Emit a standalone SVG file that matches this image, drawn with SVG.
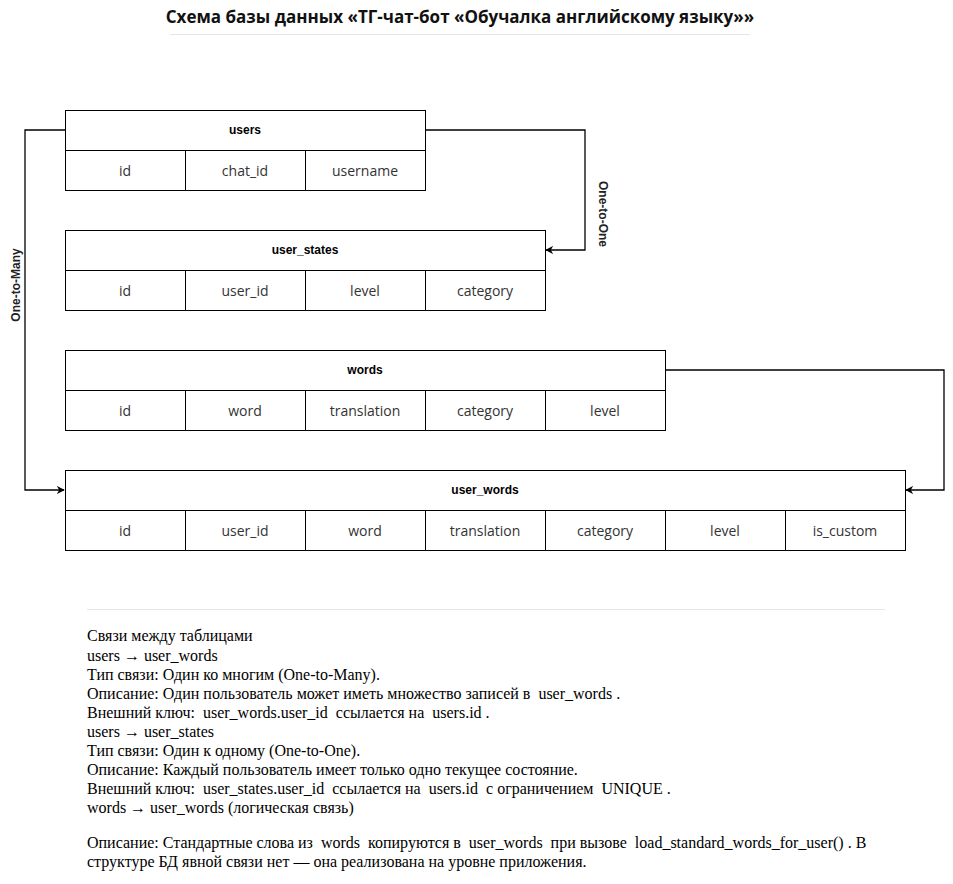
<svg xmlns="http://www.w3.org/2000/svg" width="953" height="884" viewBox="0 0 953 884">
<style>
.bg{fill:#ffffff}
.cell{fill:#ffffff;stroke:#000000;stroke-width:1}
.hd{font-family:"Liberation Sans",Arial,sans-serif;font-size:12px;font-weight:bold;fill:#000;text-anchor:middle}
.fd{font-family:"Open Sans","Noto Sans",sans-serif;font-size:14px;fill:#333333;text-anchor:middle}
.lbl{font-family:"Liberation Sans",Arial,sans-serif;font-size:12px;font-weight:bold;fill:#222;text-anchor:middle}
.conn{fill:none;stroke:#000;stroke-width:1.3}
.title{font-family:"Open Sans","Noto Sans",sans-serif;font-size:17px;font-weight:bold;fill:#111;text-anchor:middle}
.note{font-family:"Liberation Serif","Times New Roman",serif;font-size:16px;fill:#000;white-space:pre}
</style>
<defs>
<marker id="arr" viewBox="0 0 10 10" refX="9" refY="5" markerWidth="8" markerHeight="8" markerUnits="userSpaceOnUse" orient="auto">
<path d="M0,0 L10,5 L0,10 L3,5 Z" fill="#000"/>
</marker>
</defs>
<rect class="bg" x="0" y="0" width="953" height="884"/>
<g id="title">
<text class="title" x="460" y="23">Схема базы данных «ТГ-чат-бот «Обучалка английскому языку»»</text>
<line x1="170" y1="34.5" x2="750" y2="34.5" stroke="#e3e6ea" stroke-width="1"/>
</g>
<g id="connectors">
<path class="conn" d="M425,130 H585 V250 H546" marker-end="url(#arr)"/>
<path class="conn" d="M65,130 H25 V490 H64" marker-end="url(#arr)"/>
<path class="conn" d="M665,370 H944 V490 H906" marker-end="url(#arr)"/>
<text class="lbl" transform="translate(599,214) rotate(90)">One-to-One</text>
<text class="lbl" transform="translate(20,285) rotate(-90)">One-to-Many</text>
</g>
<g id="users">
<rect class="cell" x="65.5" y="110.5" width="360" height="40"/>
<text class="hd" x="245" y="134">users</text>
<rect class="cell" x="65.5" y="150.5" width="120" height="40"/>
<rect class="cell" x="185.5" y="150.5" width="120" height="40"/>
<rect class="cell" x="305.5" y="150.5" width="120" height="40"/>
<text class="fd" x="125" y="176">id</text>
<text class="fd" x="245" y="176">chat_id</text>
<text class="fd" x="365" y="176">username</text>
</g>
<g id="user_states">
<rect class="cell" x="65.5" y="230.5" width="480" height="40"/>
<text class="hd" x="305" y="254">user_states</text>
<rect class="cell" x="65.5" y="270.5" width="120" height="40"/>
<rect class="cell" x="185.5" y="270.5" width="120" height="40"/>
<rect class="cell" x="305.5" y="270.5" width="120" height="40"/>
<rect class="cell" x="425.5" y="270.5" width="120" height="40"/>
<text class="fd" x="125" y="296">id</text>
<text class="fd" x="245" y="296">user_id</text>
<text class="fd" x="365" y="296">level</text>
<text class="fd" x="485" y="296">category</text>
</g>
<g id="words">
<rect class="cell" x="65.5" y="350.5" width="600" height="40"/>
<text class="hd" x="365" y="374">words</text>
<rect class="cell" x="65.5" y="390.5" width="120" height="40"/>
<rect class="cell" x="185.5" y="390.5" width="120" height="40"/>
<rect class="cell" x="305.5" y="390.5" width="120" height="40"/>
<rect class="cell" x="425.5" y="390.5" width="120" height="40"/>
<rect class="cell" x="545.5" y="390.5" width="120" height="40"/>
<text class="fd" x="125" y="416">id</text>
<text class="fd" x="245" y="416">word</text>
<text class="fd" x="365" y="416">translation</text>
<text class="fd" x="485" y="416">category</text>
<text class="fd" x="605" y="416">level</text>
</g>
<g id="user_words">
<rect class="cell" x="65.5" y="470.5" width="840" height="40"/>
<text class="hd" x="485" y="494">user_words</text>
<rect class="cell" x="65.5" y="510.5" width="120" height="40"/>
<rect class="cell" x="185.5" y="510.5" width="120" height="40"/>
<rect class="cell" x="305.5" y="510.5" width="120" height="40"/>
<rect class="cell" x="425.5" y="510.5" width="120" height="40"/>
<rect class="cell" x="545.5" y="510.5" width="120" height="40"/>
<rect class="cell" x="665.5" y="510.5" width="120" height="40"/>
<rect class="cell" x="785.5" y="510.5" width="120" height="40"/>
<text class="fd" x="125" y="536">id</text>
<text class="fd" x="245" y="536">user_id</text>
<text class="fd" x="365" y="536">word</text>
<text class="fd" x="485" y="536">translation</text>
<text class="fd" x="605" y="536">category</text>
<text class="fd" x="725" y="536">level</text>
<text class="fd" x="845" y="536">is_custom</text>
</g>
<g id="notes">
<line x1="87" y1="609.5" x2="885" y2="609.5" stroke="#e3e6ea" stroke-width="1"/>
<text class="note" x="87" y="641">Связи между таблицами</text>
<text class="note" x="87" y="661">users → user_words</text>
<text class="note" x="87" y="680">Тип связи: Один ко многим (One-to-Many).</text>
<text class="note" x="87" y="699">Описание: Один пользователь может иметь множество записей в  user_words .</text>
<text class="note" x="87" y="718">Внешний ключ:  user_words.user_id  ссылается на  users.id .</text>
<text class="note" x="87" y="737">users → user_states</text>
<text class="note" x="87" y="756">Тип связи: Один к одному (One-to-One).</text>
<text class="note" x="87" y="775">Описание: Каждый пользователь имеет только одно текущее состояние.</text>
<text class="note" x="87" y="794">Внешний ключ:  user_states.user_id  ссылается на  users.id  с ограничением  UNIQUE .</text>
<text class="note" x="87" y="813">words → user_words (логическая связь)</text>
<text class="note" x="87" y="848">Описание: Стандартные слова из  words  копируются в  user_words  при вызове  load_standard_words_for_user() . В</text>
<text class="note" x="87" y="867">структуре БД явной связи нет — она реализована на уровне приложения.</text>
</g>
</svg>
